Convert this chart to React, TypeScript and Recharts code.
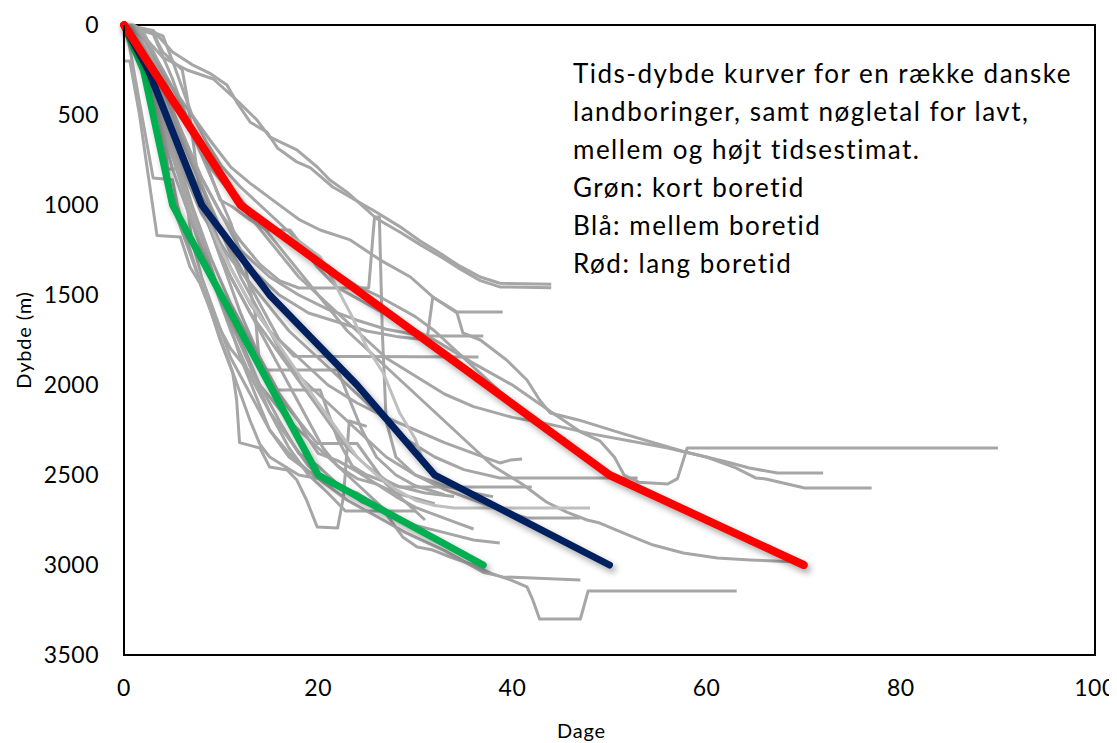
import { LineChart, Line, XAxis, YAxis, ReferenceArea } from "recharts";

type Pt = [number, number];

const xTicks = [0, 20, 40, 60, 80, 100];
const yTicks = [0, 500, 1000, 1500, 2000, 2500, 3000, 3500];

const noteLines = [
  "Tids-dybde kurver for en række danske",
  "landboringer, samt nøgletal for lavt,",
  "mellem og højt tidsestimat.",
  "Grøn: kort boretid",
  "Blå: mellem boretid",
  "Rød: lang boretid",
];

// nøgletal (days, depth)
const kort: Pt[] = [[0, 0], [2, 250], [5, 1000], [20, 2500], [37, 3000]];
const mellem: Pt[] = [[0, 0], [2.5, 250], [8, 1000], [15, 1500], [24, 2000], [32, 2500], [50, 3000]];
const lang: Pt[] = [[0, 0], [12, 1000], [50, 2500], [70, 3000]];

// landboringer
const b01: Pt[] = [[0, 0], [3, 30], [5, 150], [7, 220], [8.8, 267], [10.6, 333], [11.6, 428], [13, 540], [14.7, 594], [15.8, 683], [17.8, 761], [19.2, 794], [21.5, 900], [26, 1040], [28.4, 1120], [30.5, 1200], [32.9, 1280], [34.6, 1340], [36.7, 1400], [38.7, 1435], [44, 1440]];
const b02: Pt[] = [[0, 0], [2, 60], [4, 180], [6.5, 250], [9.2, 300], [11.6, 417], [13.7, 528], [15, 622], [17.8, 694], [19.9, 789], [21.2, 861], [23, 930], [26, 1075], [28.4, 1150], [30.5, 1220], [33, 1300], [34.6, 1355], [36.7, 1420], [38.7, 1455], [44, 1460]];
const b03: Pt[] = [[0, 0], [2, 40], [3.5, 200], [5, 350], [7, 500], [9, 650], [11, 790], [13, 880], [15.5, 980], [18.1, 1083], [20.2, 1139], [23.3, 1194], [26.4, 1306], [29.5, 1400], [31.8, 1511], [34.3, 1594], [39, 1594]];
const b04: Pt[] = [[0, 0], [2, 80], [4, 250], [6, 450], [8, 700], [9.9, 972], [11.2, 1011], [13, 1083], [14.7, 1139], [17.1, 1139], [18.1, 1211], [19.9, 1344], [21.9, 1456], [24.3, 1528], [28, 1640], [32, 1750], [36, 1880], [40, 2000], [44, 2150], [47, 2260], [49, 2310], [50.5, 2400], [51.5, 2500], [53, 2540], [56, 2550], [57, 2520], [58, 2350], [90, 2350]];
const b05: Pt[] = [[0, 0], [2, 200], [4, 450], [6, 700], [8, 950], [10, 1150], [13, 1350], [16, 1500], [19, 1600], [22, 1650], [25, 1700], [28, 1730], [31.2, 1750], [31.8, 1511], [34.3, 1600], [34.9, 1711], [36.7, 1750], [39.4, 1861], [41.5, 1972], [42.8, 2083], [43.9, 2156], [46.8, 2194], [51.2, 2267], [57.8, 2372], [62.1, 2428], [64.4, 2461], [67.3, 2489], [72, 2489]];
const b06: Pt[] = [[0, 0], [3, 150], [5, 400], [7, 600], [9, 800], [12, 1000], [15, 1200], [18, 1400], [21, 1550], [24, 1700], [27, 1850], [30, 1950], [33, 2050], [36, 2120], [40, 2180], [44, 2220], [48, 2270], [52, 2310], [56, 2350], [60, 2400], [63, 2460], [65.1, 2517], [66.1, 2522], [70.1, 2572], [77, 2572]];
const b07: Pt[] = [[0, 0], [2, 100], [4, 300], [6, 500], [8, 700], [11, 900], [14, 1100], [17, 1300], [20, 1500], [23, 1700], [26, 1850], [29, 2000], [32, 2150], [35, 2300], [38, 2450], [41, 2550], [43.5, 2650], [45.6, 2706], [47.7, 2750], [49, 2767], [52.4, 2844], [54.5, 2889], [57.6, 2933], [61.1, 2961], [64.5, 2972], [69.4, 2983]];
const b08: Pt[] = [[0, 0], [2, 150], [3.5, 400], [5, 700], [6.5, 1000], [8, 1250], [10, 1500], [12, 1750], [14, 2000], [16, 2200], [18, 2380], [20, 2450], [22, 2550], [24.5, 2650], [26.7, 2694], [28.7, 2844], [30.2, 2900], [31.8, 2917], [33.6, 2956], [36, 3000], [38, 3050], [39.8, 3083], [41.5, 3122], [42.1, 3194], [42.8, 3300], [47, 3300], [47.8, 3144], [63.1, 3144]];
const b09: Pt[] = [[0, 0], [1.5, 120], [3, 350], [4.5, 600], [6, 850], [7.5, 1100], [9, 1350], [10.5, 1600], [12, 1850], [13.5, 2050], [15, 2250], [17, 2400], [19, 2480], [21, 2560], [23, 2640], [25, 2700], [27, 2760], [29, 2820], [31, 2870], [33, 2920], [35, 2980], [37, 3040], [39, 3066], [47, 3083]];
const b10: Pt[] = [[0, 200], [0.6, 200], [1.6, 500], [2.4, 800], [3.4, 1170], [5.8, 1178], [6.8, 1344], [7.8, 1433], [8.9, 1583], [9.9, 1750], [11.2, 1933], [11.6, 2083], [11.9, 2320], [14, 2350], [15, 2456], [16.8, 2472], [17.8, 2528], [18.8, 2639], [19.9, 2789], [22, 2794], [22.6, 2622], [23.2, 2200], [25, 2230]];
const b11: Pt[] = [[0, 0], [1.5, 100], [3, 350], [4.5, 650], [6, 900], [7.5, 1150], [9, 1400], [11, 1650], [13, 1900], [15, 2150], [17, 2300], [19, 2450], [21, 2550], [24, 2600], [27, 2700], [30, 2780], [33, 2820], [36, 2861], [38.7, 2878]];
const b12: Pt[] = [[0, 0], [2, 200], [3.5, 500], [5, 800], [7, 1100], [9, 1400], [11, 1700], [13, 1950], [15, 2150], [17, 2350], [19, 2500], [21, 2600], [22.8, 2700], [30, 2700]];
const b13: Pt[] = [[0, 0], [2, 100], [4, 350], [6, 650], [8, 900], [10, 1150], [12, 1400], [14, 1600], [16, 1800], [18, 1950], [21, 2100], [24, 2250], [27, 2400], [30, 2500], [33, 2580], [36, 2640], [39, 2700], [41.5, 2739], [47, 2739]];
const b14: Pt[] = [[0, 0], [2.5, 150], [4, 400], [6, 700], [8, 1000], [10, 1250], [12.5, 1500], [15, 1700], [17.5, 1900], [20, 2100], [22, 2250], [24, 2400], [26, 2500], [28, 2580], [30, 2640], [32, 2670], [34, 2683], [48, 2683]];
const b15: Pt[] = [[0, 0], [2, 100], [3, 300], [5, 600], [7, 900], [9, 1150], [11, 1400], [13, 1600], [15, 1750], [17, 1900], [19, 2050], [21, 2200], [23, 2350], [25, 2450], [27, 2530], [28.4, 2567], [42, 2567]];
const b16: Pt[] = [[0, 0], [2, 200], [4, 500], [6, 800], [8, 1050], [11, 1300], [14, 1500], [17, 1700], [20, 1850], [23, 2000], [26, 2150], [29, 2300], [32, 2400], [35, 2470], [38.7, 2517], [52.9, 2517]];
const b17: Pt[] = [[0, 0], [1.5, 50], [3, 250], [5, 550], [7, 850], [9, 1100], [11, 1350], [13, 1550], [15, 1700], [18, 1850], [21, 2000], [24, 2100], [27, 2180], [30, 2250], [33, 2320], [36, 2380], [38.7, 2433], [39.8, 2417], [41, 2411]];
const b18: Pt[] = [[0, 0], [2, 100], [4, 350], [6, 600], [8, 850], [10, 1050], [12, 1250], [15, 1400], [18, 1500], [21, 1580], [24, 1640], [27, 1690], [30.8, 1728], [37, 1728]];
const b19: Pt[] = [[0, 0], [2.5, 100], [4.5, 400], [6.5, 700], [8.5, 950], [10.5, 1200], [12.5, 1400], [14.5, 1600], [16, 1750], [17.5, 1840], [36.5, 1845]];
const b20: Pt[] = [[0, 0], [3, 50], [5, 300], [7, 600], [9, 850], [11, 1100], [12.5, 1350], [13.5, 1600], [14, 1917], [22, 1917], [23, 2050], [24.5, 2250], [26, 2400], [28, 2500], [30, 2560], [33, 2610]];
const b21: Pt[] = [[0, 0], [2, 150], [4, 400], [6, 700], [8, 1000], [10, 1300], [12, 1600], [14, 1850], [16, 2050], [18, 2200], [19.9, 2325], [24, 2325], [25, 2400], [27, 2550], [29, 2650], [31, 2750]];
const b22: Pt[] = [[0, 0], [1.5, 80], [3, 300], [5, 650], [7, 1000], [9, 1300], [11, 1550], [13, 1750], [15, 1950], [15.8, 2028], [20.2, 2028], [21, 2150], [22, 2300], [23.5, 2450], [25, 2500], [28, 2560], [31, 2600], [34, 2620]];
const b23: Pt[] = [[0, 0], [2, 100], [4, 350], [6, 600], [8, 850], [10, 1050], [12, 1200], [14, 1330], [16, 1420], [18, 1461], [25.2, 1461], [25.8, 1067], [26.3, 1067], [26.6, 1700], [27, 2200], [28, 2400], [30, 2500], [33, 2560], [36, 2600], [38, 2620]];
const b24: Pt[] = [[0, 0], [2, 100], [4, 300], [6, 500], [8, 700], [10, 850], [12, 980], [14, 1080], [16, 1150], [18, 1200], [20.2, 1289], [21.5, 1417], [23.3, 1600], [25, 1789], [26.7, 1933], [28.4, 2156], [30, 2300], [31, 2450], [32, 2520], [34, 2560], [36, 2600]];
const b25: Pt[] = [[0, 0], [1, 0], [2, 30], [3, 30], [3.5, 100], [4, 150], [5, 200], [6, 250], [6.5, 400], [7, 600], [7.5, 800], [8, 1000], [9, 1150], [10, 1300], [11.5, 1450], [13, 1600], [14.5, 1750], [16, 1900], [17.5, 2050], [19, 2200], [20.5, 2350], [22, 2450], [24, 2520], [26, 2550], [28, 2600], [32, 2660]];
const b26: Pt[] = [[0, 0], [2, 50], [3, 150], [3.5, 400], [4, 700], [4.2, 800], [6, 800], [6.5, 1000], [7, 1200], [8, 1400], [9, 1550], [10, 1700], [11, 1850], [12, 1950], [13.5, 2100], [15, 2250], [17, 2380], [19, 2480], [21, 2520]];
const b27: Pt[] = [[0, 0], [0.5, 100], [1.5, 400], [2.5, 700], [3, 850], [5, 860], [5.5, 1000], [6.5, 1200], [8, 1450], [9.5, 1650], [11, 1800], [12.5, 1900], [14, 2000], [15.5, 2100], [17, 2200], [19, 2300], [21, 2400], [23, 2500], [25, 2600], [27, 2700]];
const b28: Pt[] = [[0, 0], [2, 20], [4, 60], [5, 200], [6, 350], [7, 500], [8.5, 650], [10, 780], [12, 900], [14, 1000], [16, 1100], [18, 1200], [20, 1300], [22, 1380], [24, 1450], [26, 1500], [28, 1560], [30, 1620], [32, 1700], [34, 1800], [36, 1900], [38, 2000], [40, 2100], [42, 2200], [44, 2280], [45.5, 2300]];
const b29: Pt[] = [[0, 0], [1, 50], [2, 250], [3, 500], [4, 750], [5, 950], [6, 1100], [7.5, 1250], [9, 1400], [10.5, 1550], [12, 1700], [13, 1800], [14, 1900], [15, 2000], [16.5, 2100], [18, 2200], [19, 2300], [20, 2380], [22, 2420], [24, 2480], [26, 2550], [28, 2620], [30, 2680], [32, 2720], [34, 2760], [36, 2800]];
const b30: Pt[] = [[0, 0], [1, 30], [2, 120], [3, 300], [4, 550], [4.5, 800], [5, 1000], [6, 1150], [7, 1300], [8, 1450], [9, 1600], [10, 1750], [11, 1900], [12, 2050], [13, 2200], [14, 2330], [15, 2400], [16.5, 2450], [18, 2500], [20, 2520]];

const grayWells = [b01, b02, b03, b04, b05, b06, b07, b08, b09, b10, b11, b12, b13, b15, b16, b17, b18, b19, b20, b21, b22, b23, b25, b26, b27, b28, b29, b30];
const lightWells = [b14, b24];

const rows = (pts: Pt[]) => pts.map(([x, y]) => ({ x, y }));

const FONT = "Lato, 'Open Sans', sans-serif";

export default function App() {
  return (
    <div style={{ position: "relative", width: 1109, height: 735, fontFamily: FONT }}>
      <style>{`.key-line { filter: drop-shadow(3px 4px 3px rgba(0,0,0,0.35)); }`}</style>
      <LineChart
        width={1109}
        height={735}
        margin={{ top: 17, right: 22, bottom: 3, left: 11 }}
        style={{ fontFamily: FONT }}
      >
        <XAxis
          type="number"
          dataKey="x"
          domain={[0, 100]}
          ticks={xTicks}
          allowDuplicatedCategory={false}
          height={85}
          tickLine={false}
          tickSize={6}
          tickMargin={19}
          axisLine={{ stroke: "#000", strokeWidth: 2 }}
          tick={{ fill: "#000", fontSize: 23, fontFamily: FONT, letterSpacing: 0.5 }}
          label={{
            value: "Dage",
            position: "insideBottom",
            offset: 2,
            dx: -28,
            fill: "#000",
            fontSize: 20,
            fontFamily: FONT,
            letterSpacing: 0.8,
          }}
        />
        <YAxis
          type="number"
          dataKey="y"
          reversed
          domain={[0, 3500]}
          ticks={yTicks}
          width={105}
          tickLine={false}
          tickSize={6}
          tickMargin={19}
          axisLine={{ stroke: "#000", strokeWidth: 2 }}
          tick={{ fill: "#000", fontSize: 23, fontFamily: FONT, letterSpacing: 0.5 }}
          label={{
            value: "Dybde (m)",
            angle: -90,
            position: "insideLeft",
            offset: 5,
            fill: "#000",
            fontSize: 20,
            fontFamily: FONT,
            letterSpacing: 0.8,
            style: { textAnchor: "middle" },
          }}
        />
        <ReferenceArea x1={0} x2={100} y1={0} y2={3500} fill="none" stroke="#000" strokeWidth={2} ifOverflow="visible" />
        {grayWells.map((w, i) => (
          <Line
            key={`g${i}`}
            data={rows(w)}
            dataKey="y"
            stroke="#A6A6A6"
            strokeWidth={3}
            dot={false}
            isAnimationActive={false}
            strokeLinejoin="round"
          />
        ))}
        {lightWells.map((w, i) => (
          <Line
            key={`l${i}`}
            data={rows(w)}
            dataKey="y"
            stroke="#BFBFBF"
            strokeWidth={3}
            dot={false}
            isAnimationActive={false}
            strokeLinejoin="round"
          />
        ))}
        <Line className="key-line" data={rows(kort)} dataKey="y" stroke="#00B050" strokeWidth={7} strokeLinecap="round" strokeLinejoin="round" dot={false} isAnimationActive={false} />
        <Line className="key-line" data={rows(mellem)} dataKey="y" stroke="#002060" strokeWidth={7} strokeLinecap="round" strokeLinejoin="round" dot={false} isAnimationActive={false} />
        <Line className="key-line" data={rows(lang)} dataKey="y" stroke="#FF0000" strokeWidth={8} strokeLinecap="round" strokeLinejoin="round" dot={false} isAnimationActive={false} />
      </LineChart>
      <div
        style={{
          position: "absolute",
          left: 565,
          top: 46,
          fontSize: 26,
          letterSpacing: 1.5,
          lineHeight: "38px",
          color: "#000",
          fontFamily: FONT,
          whiteSpace: "nowrap",
        }}
      >
        {noteLines.map((t) => (
          <div key={t}>{t}</div>
        ))}
      </div>
    </div>
  );
}
